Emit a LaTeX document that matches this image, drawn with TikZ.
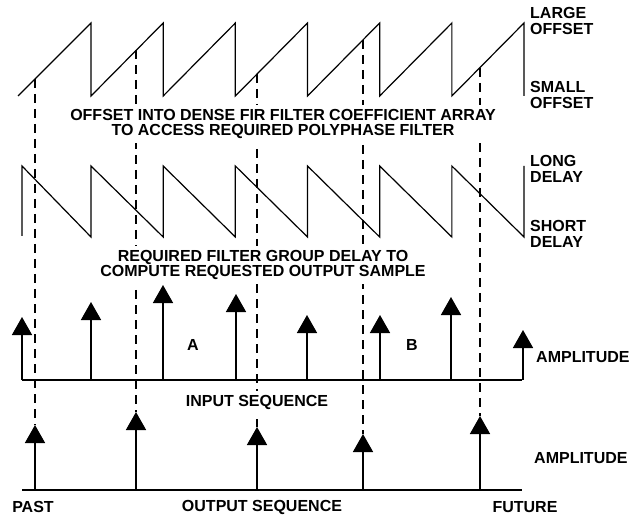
\documentclass[tikz,border=0pt]{standalone}
\usepackage{fontspec}
\setmainfont{Liberation Sans}
\usepackage{tikz}
\usetikzlibrary{calc,arrows.meta}

\begin{document}
\begin{tikzpicture}[x=1pt, y=-1pt,
        lbl/.style={font=\bfseries\fontsize{16}{15.5}\selectfont, align=center, inner sep=0pt},
        side/.style={lbl, align=left, anchor=west},
        blank/.style={lbl, fill=white, inner xsep=2pt, inner ysep=4pt},
        stem/.style={line width=1.6pt, -{Triangle[width=20pt, length=18pt]}},
        guide/.style={line width=1.3pt, dash pattern=on 9pt off 6pt}]

        \def\linethick{1.2pt}
        \def\per{72.17}

        \useasboundingbox (0, 0) rectangle (631, 518);

        % offset sawtooth
        \draw[line width=\linethick] (18, 96) -- (91, 23)
            \foreach \k in {1,...,6} { -- ++(0, 73) -- ++(\per, -73) } -- ++(0, 73);

        % delay sawtooth
        \draw[line width=\linethick] (22, 236) -- (22, 166) -- (91, 237)
            \foreach \k in {1,...,6} { -- ++(0, -71) -- ++(\per, 71) } -- ++(0, -71);

        % input sequence
        \coordinate (inL) at (22, 380);
        \coordinate (inR) at (522, 380);
        \draw[line width=1.8pt] (inL) -- (inR);
        \foreach \x/\t [count=\i] in {22/317, 91/302, 163/285, 236/294, 307/315, 380/315, 451/297, 523/330} {
            \coordinate (in\i) at (\x, 380);
            \draw[stem] (in\i) -- (\x, \t);
        }

        % output sequence
        \coordinate (outL) at (22, 490);
        \coordinate (outR) at (522, 490);
        \draw[line width=1.8pt] (outL) -- (outR);

        % Dashed lines
        \foreach \x/\r/\t [count=\i] in {35/79/425, 136/50/412, 257/74/427, 363/40/434, 480/68/416} {
            \coordinate (r\i) at (\x, \r);
            \coordinate (o\i) at (\x, \t);
            \draw[guide] (r\i) -- (o\i);
            \draw[stem] (\x, 490) -- (o\i);
        }

        \node[blank] (offset) at (283, 124) {OFFSET INTO DENSE FIR FILTER COEFFICIENT ARRAY\\TO ACCESS REQUIRED POLYPHASE FILTER};
        \node[blank] (delay) at (263, 265) {REQUIRED FILTER GROUP DELAY TO\\COMPUTE REQUESTED OUTPUT SAMPLE};
        \node[blank] (input) at (257, 402) {INPUT SEQUENCE};

        \node[side] (large) at (530, 21) {LARGE\\OFFSET};
        \node[side] (small) at (530, 95) {SMALL\\OFFSET};
        \node[side] (long) at (530, 169) {LONG\\DELAY};
        \node[side] (short) at (530, 234) {SHORT\\DELAY};

        \node[lbl] (a) at (193, 345) {A};
        \node[lbl] (b) at (412, 345) {B};
        \node[side] (ampin) at (536, 357) {AMPLITUDE};
        \node[side] (ampout) at (534, 458) {AMPLITUDE};

        \node[lbl] (past) at (33, 507) {PAST};
        \node[lbl] (output) at (262, 507) {OUTPUT SEQUENCE};
        \node[lbl] (future) at (525, 507) {FUTURE};

    \end{tikzpicture}
\end{document}
